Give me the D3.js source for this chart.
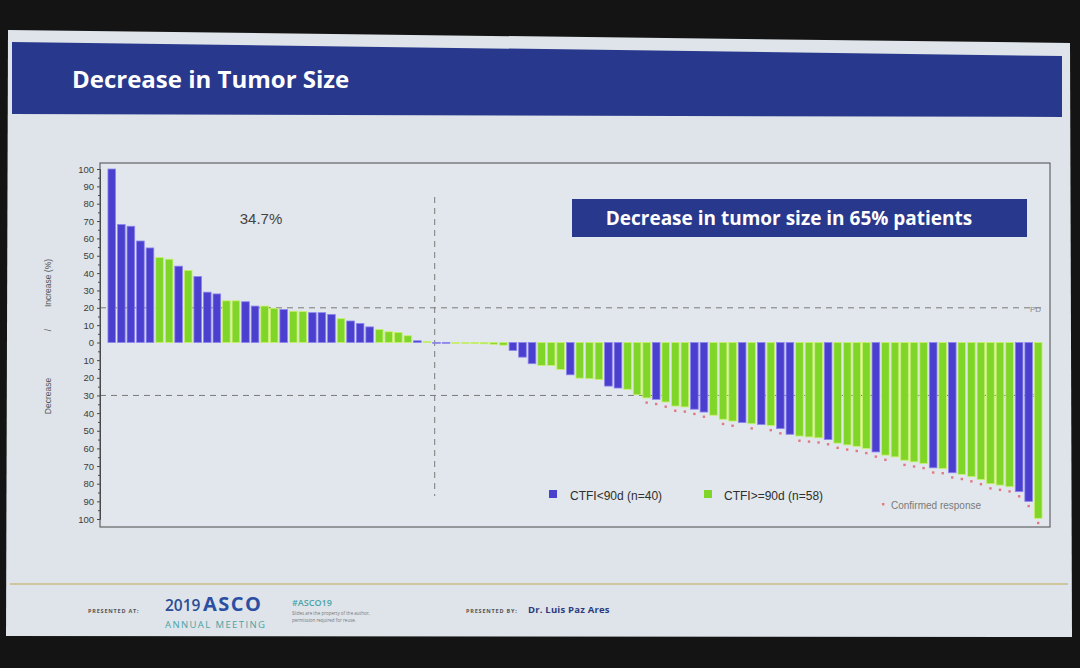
<!DOCTYPE html>
<html><head><meta charset="utf-8">
<script src="https://cdn.jsdelivr.net/npm/d3@7"></script>
<style>html,body{margin:0;padding:0;background:#141414;}svg{display:block;}</style>
</head><body>
<svg id="chart" width="1080" height="668"></svg>
<script>
// ---------- data ----------
const patients = d3.range(1, 99);
const change = [100,68,67,58.5,54.5,49,48,44,41.5,38,29,28,24,24,23.5,21,21,19.7,19,18,17.8,17.2,17.2,16.2,13.7,12.4,11,9,7.5,6.2,5.8,3.9,1,0.5,
 -0.3,-0.3,-0.4,-0.5,-0.5,-0.7,-1,-1.5,-4.5,-8.3,-12,-13,-13,-15.3,-18.3,-20.2,-20.5,-21,-24.7,-25.8,-26.5,-29.6,-31.4,-32.2,-33.7,-36,-36.5,-37.8,-39.4,-41.2,
 -43.5,-44.5,-45.4,-46,-46.5,-47,-48.8,-52,-53,-53.5,-54,-55,-57,-58,-58.8,-60,-62,-63.8,-64.8,-66.7,-67.6,-68.5,-71,-71.4,-73.8,-74.7,-76,-77.6,-80,-80.8,-81.7,-84.5,-90,-99.6];
// B = CTFI<90d, G = CTFI>=90d, one letter per patient
const group = ("BBBBB" + "GG" + "B" + "G" + "BBB" + "GG" + "BB" + "GG" + "B" + "GG" + "BBB" + "G" + "BBB" + "GGGG" + "B" + "G" +
  "BB" + "GGGGGG" + "BBB" + "GGG" + "B" + "GGG" + "BB" + "GGG" + "B" + "GGG" + "BB" + "GGG" + "B" + "G" + "B" + "G" + "BB" +
  "GGG" + "B" + "GGGG" + "B" + "GGGGG" + "B" + "G" + "B" + "GGGGGG" + "BB" + "G").split("");
const confirmed = [56,57,58,59,60,61,62,64,65,67,69,70,72,73,74,75,76,77,78,79,80,81,83,84,85,86,87,88,89,90,91,92,93,94,95,96,97];
const groupNames = {B: "CTFI<90d (n=40)", G: "CTFI>=90d (n=58)"};
const yTicks = d3.range(-100, 101, 10);
const refLines = [{v: 20, label: "PD"}, {v: -30, label: "PR"}];
const title = "Decrease in Tumor Size";
const boxText = "Decrease in tumor size in 65% patients";
const pctText = "34.7%";

// ---------- drawing ----------
const svg = d3.select("#chart");
const colors = {B: "#4a3fcf", G: "#7fd628"};
const edge = {B: "#8f86ee", G: "#c9f06a"};

// slide (photo of projection)
svg.append("polygon").attr("points", "8,30 1070,43 1072,637 6,636").attr("fill", "#dee4e9");
svg.append("polygon").attr("points", "12,42 1062,56 1062,117 12,114").attr("fill", "#28388c");
svg.append("text").attr("x", 72).attr("y", 88).text(title)
  .attr("font-family", "Open Sans").attr("font-weight", 700).attr("font-size", 24).attr("fill", "#ffffff");

const x = d3.scaleBand().domain(patients).range([107, 1043]).paddingInner(0.2).paddingOuter(0.1);
const y = d3.scaleLinear().domain([-100, 0, 100]).range([519, 342.5, 169]);

// plot frame
svg.append("rect").attr("x", 100).attr("y", 163).attr("width", 950).attr("height", 364)
  .attr("fill", "#e1e7ec").attr("stroke", "#4a4a4a").attr("stroke-width", 1);

// reference lines
const refs = svg.append("g");
refLines.forEach(r => {
  refs.append("line").attr("x1", 100).attr("x2", 1044).attr("y1", y(r.v)).attr("y2", y(r.v))
    .attr("stroke", "#7a7a7a").attr("stroke-dasharray", "6,5").attr("stroke-width", 1);
  refs.append("text").attr("x", 1030).attr("y", y(r.v) + 4).text(r.label)
    .attr("font-family", "Liberation Sans").attr("font-size", 8).attr("fill", "#8a8a8a");
});
const splitX = x(35) + 2;
refs.append("line").attr("x1", splitX).attr("x2", splitX).attr("y1", 197).attr("y2", 496)
  .attr("stroke", "#7a7a7a").attr("stroke-dasharray", "6,5");

// bars
svg.append("g").selectAll("rect").data(patients).join("rect")
  .attr("x", d => x(d))
  .attr("width", x.bandwidth())
  .attr("y", (d, i) => Math.min(y(change[i]), y(0)))
  .attr("height", (d, i) => Math.max(0.8, Math.abs(y(change[i]) - y(0))))
  .attr("fill", (d, i) => colors[group[i]])
  .attr("stroke", (d, i) => edge[group[i]]).attr("stroke-width", 0.8);

// confirmed response markers
svg.append("g").selectAll("rect").data(confirmed).join("rect")
  .attr("x", i => x(patients[i]) + x.bandwidth() / 2 - 1.2)
  .attr("y", i => y(change[i]) + 3.5)
  .attr("width", 2.4).attr("height", 2.4).attr("fill", "#e07a80");

// y axis
const yAxis = svg.append("g").attr("transform", "translate(100,0)")
  .call(d3.axisLeft(y).tickValues(yTicks).tickFormat(d => Math.abs(d)).tickSize(3).tickPadding(3));
yAxis.select(".domain").attr("stroke", "#4a4a4a");
yAxis.selectAll("line").attr("stroke", "#4a4a4a");
yAxis.selectAll("text").attr("font-family", "Liberation Sans").attr("font-size", 9.5).attr("fill", "#3c3c3c");
svg.append("g").attr("transform", "translate(100,0)")
  .call(d3.axisLeft(y).tickValues(d3.range(-95, 100, 10)).tickFormat("").tickSize(2))
  .call(g => g.select(".domain").remove())
  .selectAll("line").attr("stroke", "#4a4a4a");

// y axis titles
const yt = [{t: "Increase (%)", yc: 283}, {t: "/", yc: 330}, {t: "Decrease", yc: 396}];
yt.forEach(o => svg.append("text").attr("transform", `translate(51,${o.yc}) rotate(-90)`)
  .attr("text-anchor", "middle").text(o.t)
  .attr("font-family", "Liberation Sans").attr("font-size", 8.5).attr("fill", "#555"));

// annotations
svg.append("text").attr("x", 261).attr("y", 224).attr("text-anchor", "middle").text(pctText)
  .attr("font-family", "Liberation Sans").attr("font-size", 15).attr("fill", "#444");
svg.append("rect").attr("x", 572).attr("y", 199).attr("width", 455).attr("height", 38).attr("fill", "#28388c");
svg.append("text").attr("x", 789).attr("y", 225).attr("text-anchor", "middle").text(boxText)
  .attr("font-family", "Open Sans").attr("font-weight", 700).attr("font-size", 19).attr("fill", "#ffffff");

// legend
const leg = svg.append("g");
[["B", 549, 570], ["G", 704, 724]].forEach(([k, sx, tx]) => {
  leg.append("rect").attr("x", sx).attr("y", 490).attr("width", 8).attr("height", 8).attr("fill", colors[k]);
  leg.append("text").attr("x", tx).attr("y", 500).text(groupNames[k])
    .attr("font-family", "Liberation Sans").attr("font-size", 12).attr("fill", "#2f2f2f");
});
leg.append("rect").attr("x", 882).attr("y", 503).attr("width", 2.4).attr("height", 2.4).attr("fill", "#e07a80");
leg.append("text").attr("x", 891).attr("y", 509).text("Confirmed response")
  .attr("font-family", "Liberation Sans").attr("font-size", 10).attr("fill", "#7a7a7a");

// footer
svg.append("line").attr("x1", 10).attr("x2", 1068).attr("y1", 584).attr("y2", 584).attr("stroke", "#c9bd86").attr("stroke-width", 1.5);
const ft = (t, xx, yy, s, c, w, ls) => svg.append("text").attr("x", xx).attr("y", yy).text(t)
  .attr("font-family", "Open Sans").attr("font-size", s).attr("fill", c).attr("font-weight", w || 400)
  .attr("letter-spacing", ls || 0);
ft("PRESENTED AT:", 88, 613, 5.5, "#555", 700, 0.8);
ft("2019", 165, 611, 15.5, "#2b4c96", 600);
ft("ASCO", 203, 611, 20, "#2b4fa3", 700, 1.5);
ft("ANNUAL MEETING", 165, 628, 9.5, "#4aa3a6", 400, 1.4);
ft("#ASCO19", 292, 606, 9, "#4aa3a6", 600);
ft("Slides are the property of the author,", 292, 615, 4.5, "#777");
ft("permission required for reuse.", 292, 622, 4.5, "#777");
ft("PRESENTED BY:", 466, 613, 5.5, "#555", 700, 0.8);
ft("Dr. Luis Paz Ares", 528, 613, 9.5, "#2b3b80", 700, 0.2);
</script>
</body></html>
